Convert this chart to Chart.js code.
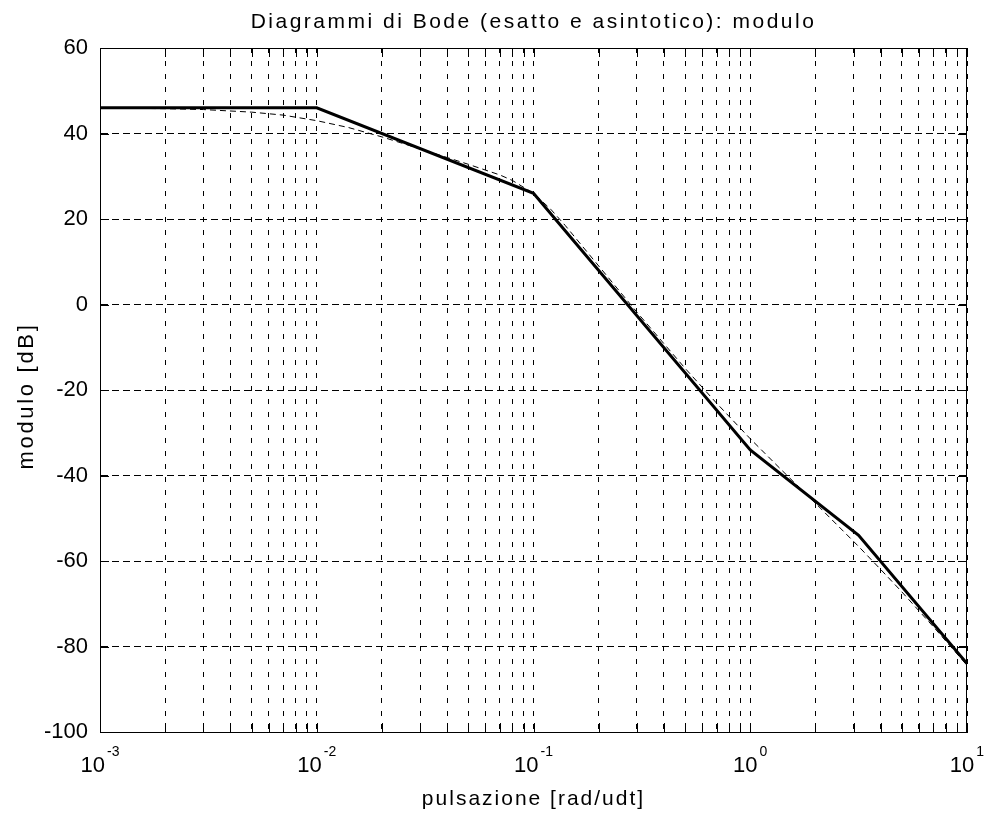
<!DOCTYPE html>
<html>
<head>
<meta charset="utf-8">
<title>Diagrammi di Bode</title>
<script src="https://cdn.jsdelivr.net/npm/chart.js@4.4.1/dist/chart.umd.min.js"></script>
<style>
  html, body { margin: 0; padding: 0; background: #fff; }
  canvas { display: block; }
</style>
</head>
<body>
<canvas id="bode" width="985" height="815"></canvas>
<script>
// modulo esatto [dB] alle varie pulsazioni [rad/udt]
const pulsEsatto = [0.001, 0.002, 0.003, 0.005, 0.007, 0.01, 0.014, 0.02, 0.03, 0.05, 0.07, 0.08, 0.1,
  0.12, 0.14, 0.2, 0.3, 0.5, 0.7, 1, 1.4, 2, 3.162, 4, 5, 7, 10];
const moduloEsatto = [46.0, 45.8, 45.6, 45.0, 44.3, 43.0, 41.4, 39.2, 36.4, 32.8, 30.3, 29.0, 26.0,
  22.3, 18.5, 9.0, -1.8, -14.9, -23.1, -31.4, -38.8, -46.5, -56.6, -62.0, -67.2, -75.4, -84.4];

// spezzata del diagramma asintotico
const pulsAsint = [0.001, 0.01, 0.1, 1, 3.162, 10];
const moduloAsint = [46, 46, 26, -34, -54, -84];

// tacche: decadi sull'asse x, passo 20 dB sull'asse y
const esponenti = [-3, -2, -1, 0, 1];
const mantisse = [1, 2, 3, 4, 5, 6, 7, 8, 9];
const ticksY = [-100, -80, -60, -40, -20, 0, 20, 40, 60];

const FONT = "'Liberation Sans', Arial, sans-serif";

const ticksX = esponenti.flatMap(e =>
  e < esponenti[esponenti.length - 1]
    ? mantisse.map(m => Number((m * Math.pow(10, e)).toPrecision(3)))
    : [Math.pow(10, e)]);

const punti = (xs, ys) => xs.map((x, i) => ({ x: x, y: ys[i] }));

// cornice, tacche interne, etichette 10^n e titoli
const cornice = {
  id: 'cornice',
  afterDraw(chart) {
    const { ctx, chartArea: a, scales: { x, y } } = chart;
    ctx.save();
    ctx.strokeStyle = '#000';
    ctx.fillStyle = '#000';
    ctx.lineWidth = 1;
    ctx.setLineDash([]);
    ctx.strokeRect(a.left + 0.5, a.top + 0.5, a.right - a.left - 1, a.bottom - a.top);

    const L = 9;
    ctx.beginPath();
    x.ticks.forEach(t => {
      const px = Math.round(x.getPixelForValue(t.value)) + 0.5;
      ctx.moveTo(px, a.top); ctx.lineTo(px, a.top + L);
      ctx.moveTo(px, a.bottom); ctx.lineTo(px, a.bottom - L);
    });
    y.ticks.forEach(t => {
      const py = Math.round(y.getPixelForValue(t.value)) + 0.5;
      ctx.moveTo(a.left, py); ctx.lineTo(a.left + L, py);
      ctx.moveTo(a.right, py); ctx.lineTo(a.right - L, py);
    });
    ctx.stroke();

    // etichette dell'asse x come potenze di 10
    ctx.textBaseline = 'alphabetic';
    ctx.textAlign = 'left';
    esponenti.forEach(e => {
      const px = x.getPixelForValue(Math.pow(10, e));
      ctx.font = '22px ' + FONT;
      const wb = ctx.measureText('10').width;
      ctx.font = '14px ' + FONT;
      const we = ctx.measureText(String(e)).width;
      const x0 = px - (wb + 2 + we) / 2;
      ctx.font = '22px ' + FONT;
      ctx.fillText('10', x0, 772);
      ctx.font = '14px ' + FONT;
      ctx.fillText(String(e), x0 + wb + 2, 756);
    });

    const cx = (a.left + a.right) / 2;
    ctx.textAlign = 'center';
    ctx.font = '21px ' + FONT;
    ctx.letterSpacing = '2.5px';
    ctx.fillText('Diagrammi di Bode (esatto e asintotico): modulo', cx, 28);
    ctx.letterSpacing = '2px';
    ctx.fillText('pulsazione [rad/udt]', cx, 805);

    ctx.translate(33, (a.top + a.bottom) / 2 + 6);
    ctx.rotate(-Math.PI / 2);
    ctx.font = '22px ' + FONT;
    ctx.letterSpacing = '2.7px';
    ctx.fillText('modulo [dB]', 0, 0);
    ctx.restore();
  }
};

new Chart(document.getElementById('bode'), {
  type: 'scatter',
  data: {
    datasets: [
      {
        label: 'esatto',
        data: punti(pulsEsatto, moduloEsatto),
        showLine: true,
        borderColor: '#000',
        borderWidth: 1,
        borderDash: [6, 4],
        pointRadius: 0,
        tension: 0
      },
      {
        label: 'asintotico',
        data: punti(pulsAsint, moduloAsint),
        showLine: true,
        borderColor: '#000',
        borderWidth: 3,
        pointRadius: 0,
        tension: 0
      }
    ]
  },
  options: {
    responsive: false,
    animation: false,
    devicePixelRatio: 1,
    layout: { padding: { top: 48, right: 18, bottom: 0, left: 0 } },
    plugins: {
      legend: { display: false },
      tooltip: { enabled: false }
    },
    scales: {
      x: {
        type: 'logarithmic',
        min: 0.001,
        max: 10,
        afterBuildTicks: s => { s.ticks = ticksX.map(v => ({ value: v })); },
        afterFit: s => { s.height = 83; },
        ticks: { display: false },
        grid: { color: '#000', lineWidth: 1, drawTicks: false },
        border: { display: true, color: '#000', width: 1, dash: [5, 8] }
      },
      y: {
        min: -100,
        max: 60,
        afterBuildTicks: s => { s.ticks = ticksY.map(v => ({ value: v })); },
        afterFit: s => { s.width = 100; },
        ticks: { color: '#000', padding: 12, font: { family: FONT, size: 22 } },
        grid: { color: '#000', lineWidth: 1, drawTicks: false },
        border: { display: true, color: '#000', width: 1, dash: [7, 4] }
      }
    }
  },
  plugins: [cornice]
});
</script>
</body>
</html>
